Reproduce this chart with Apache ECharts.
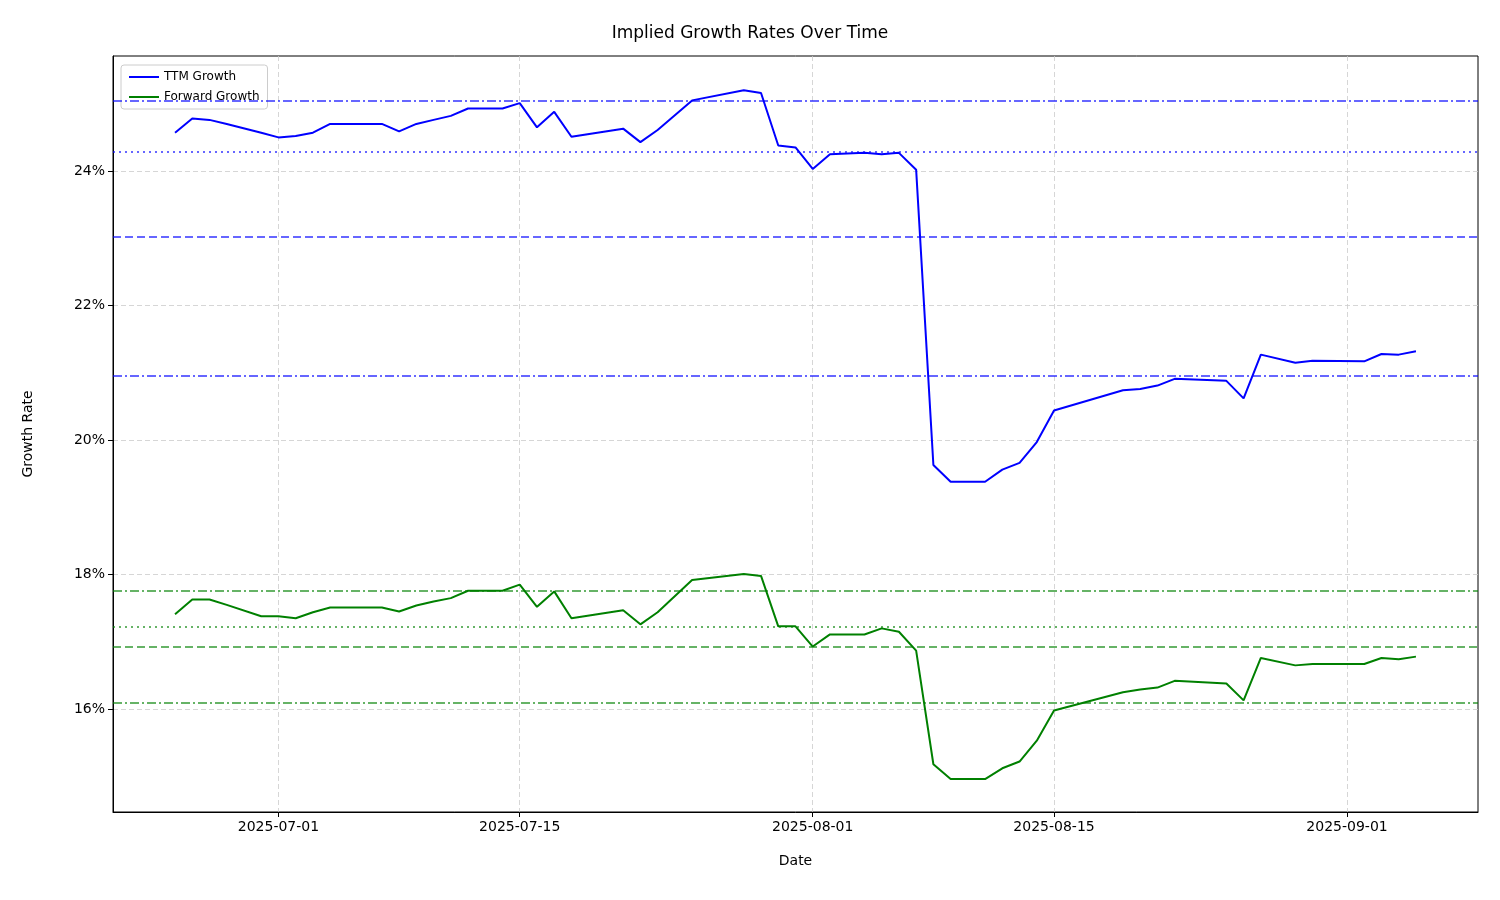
<!DOCTYPE html>
<html>
<head>
<meta charset="utf-8">
<script src="https://cdn.jsdelivr.net/npm/echarts@6/dist/echarts.min.js"></script>
<style>html,body{margin:0;background:#fff}#chart{width:1500px;height:900px}</style>
</head>
<body>
<div id="chart"></div>
<script>
// dates and values
const dates = ['2025-06-25','2025-06-26','2025-06-27','2025-06-28','2025-06-30','2025-07-01','2025-07-02','2025-07-03','2025-07-04','2025-07-07','2025-07-08','2025-07-09','2025-07-10','2025-07-11','2025-07-12','2025-07-14','2025-07-15','2025-07-16','2025-07-17','2025-07-18','2025-07-21','2025-07-22','2025-07-23','2025-07-25','2025-07-28','2025-07-29','2025-07-30','2025-07-31','2025-08-01','2025-08-02','2025-08-04','2025-08-05','2025-08-06','2025-08-07','2025-08-08','2025-08-09','2025-08-11','2025-08-12','2025-08-13','2025-08-14','2025-08-15','2025-08-19','2025-08-20','2025-08-21','2025-08-22','2025-08-25','2025-08-26','2025-08-27','2025-08-29','2025-08-30','2025-09-02','2025-09-03','2025-09-04','2025-09-05'];
const ttm = [24.57,24.78,24.76,24.70,24.57,24.50,24.52,24.57,24.70,24.70,24.59,24.70,24.76,24.82,24.93,24.93,25.01,24.65,24.88,24.51,24.63,24.43,24.61,25.05,25.20,25.16,24.38,24.35,24.03,24.25,24.27,24.25,24.27,24.02,19.63,19.38,19.38,19.56,19.66,19.97,20.44,20.74,20.76,20.81,20.91,20.88,20.62,21.27,21.15,21.18,21.17,21.28,21.27,21.32];
const fwd = [17.41,17.63,17.63,17.55,17.38,17.38,17.35,17.44,17.51,17.51,17.45,17.54,17.60,17.65,17.76,17.76,17.85,17.52,17.75,17.35,17.47,17.26,17.44,17.92,18.01,17.98,17.23,17.23,16.93,17.11,17.11,17.20,17.15,16.87,15.18,14.96,14.96,15.12,15.22,15.53,15.98,16.25,16.29,16.32,16.42,16.38,16.13,16.76,16.65,16.67,16.67,16.76,16.74,16.78];
const ttmRefs = [25.05, 24.28, 23.02, 20.95];
const fwdRefs = [17.76, 17.22, 16.92, 16.09];
const refStyles = ['dashdot', 'dotted', 'dashed', 'dashdot'];
const yTicks = [16, 18, 20, 22, 24];
const xTicks = ['2025-07-01','2025-07-15','2025-08-01','2025-08-15','2025-09-01'];

const ts = d => Date.UTC(+d.slice(0, 4), +d.slice(5, 7) - 1, +d.slice(8, 10));
const fmt = v => { const t = new Date(v); return t.getUTCFullYear() + '-' + String(t.getUTCMonth() + 1).padStart(2, '0') + '-' + String(t.getUTCDate()).padStart(2, '0'); };

const dashes = { dashdot: [9, 3, 2, 3], dotted: [2, 4], dashed: [8, 4] };
function refLines(vals, color) {
  return {
    silent: true, symbol: 'none', label: { show: false },
    data: vals.map((v, i) => ({ yAxis: v, lineStyle: { color: color, opacity: 0.6, width: 2, type: dashes[refStyles[i]] } }))
  };
}

const chart = echarts.init(document.getElementById('chart'));
const font = 'DejaVu Sans';
const day = 86400000;
chart.setOption({
  animation: false,
  textStyle: { fontFamily: font },
  title: { text: 'Implied Growth Rates Over Time', left: 'center', top: 20, textStyle: { fontFamily: font, fontSize: 17, fontWeight: 'normal', color: '#000' } },
  legend: {
    left: 121, top: 65, orient: 'vertical', itemGap: 8, itemWidth: 30, itemHeight: 2,
    borderColor: '#ccc', borderWidth: 1, borderRadius: 3, padding: [6, 8],
    textStyle: { fontSize: 12, color: '#000' },
    data: [{ name: 'TTM Growth', icon: 'rect' }, { name: 'Forward Growth', icon: 'rect' }]
  },
  grid: { left: 113, right: 22, top: 56, bottom: 88, show: true, borderColor: '#000', borderWidth: 1 },
  xAxis: {
    type: 'value',
    min: ts('2025-06-25') - 3.6 * day, max: ts('2025-09-05') + 3.6 * day,
    name: 'Date', nameLocation: 'middle', nameGap: 42, nameTextStyle: { fontSize: 14, color: '#000' },
    axisLine: { lineStyle: { color: '#000' } },
    axisTick: { customValues: xTicks.map(ts), lineStyle: { color: '#000' } },
    axisLabel: { customValues: xTicks.map(ts), fontSize: 14, color: '#000', formatter: fmt },
    splitLine: { show: true, lineStyle: { color: '#ccc', type: [5, 3], opacity: 0.8 } }
  },
  yAxis: {
    type: 'value', min: 14.47, max: 25.71,
    name: 'Growth Rate', nameLocation: 'middle', nameGap: 78, nameTextStyle: { fontSize: 14, color: '#000' },
    axisLine: { show: true, lineStyle: { color: '#000' } },
    axisTick: { show: true, customValues: yTicks, lineStyle: { color: '#000' } },
    axisLabel: { customValues: yTicks, fontSize: 14, color: '#000', formatter: v => v.toFixed(0) + '%' },
    splitLine: { show: true, lineStyle: { color: '#ccc', type: [5, 3], opacity: 0.8 } }
  },
  series: [
    { name: 'TTM Growth', type: 'line', showSymbol: false, color: '#0000ff', lineStyle: { width: 2 },
      data: dates.map((d, i) => [ts(d), ttm[i]]), markLine: refLines(ttmRefs, '#0000ff') },
    { name: 'Forward Growth', type: 'line', showSymbol: false, color: '#008000', lineStyle: { width: 2 },
      data: dates.map((d, i) => [ts(d), fwd[i]]), markLine: refLines(fwdRefs, '#008000') }
  ]
});
</script>
</body>
</html>
